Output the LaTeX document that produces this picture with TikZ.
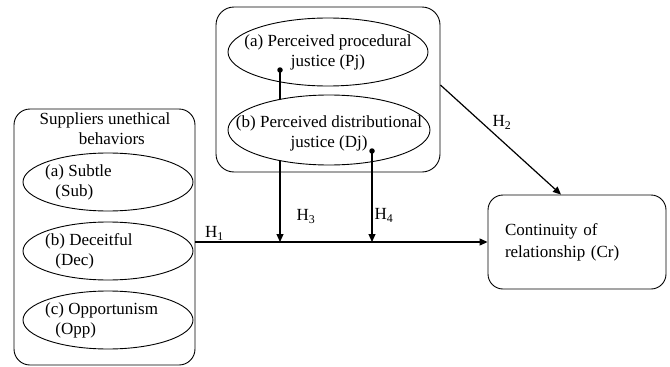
\documentclass[tikz,border=0pt]{standalone}
\usepackage{fontspec}
\setmainfont{Liberation Serif}
\usetikzlibrary{shapes.geometric,arrows.meta,backgrounds}

\begin{document}
\begin{tikzpicture}[
    x=1pt, y=-1pt,
    every node/.style={font=\fontsize{17}{20}\selectfont, inner sep=0pt},
    grpbox/.style={draw, line width=0.9pt},
    oval/.style={draw, ellipse, line width=0.9pt},
    ovaltxt/.style={align=left, anchor=west},
    dotnode/.style={circle, fill, minimum size=5.5pt},
    hyp/.style={line width=1.2pt, -{Triangle[length=8pt,width=7pt]}},
    hlab/.style={inner sep=1pt}]

\useasboundingbox (0,0) rectangle (670,367);

% suppliers behaviours
\node[grpbox, rounded corners=16pt, minimum width=181pt, minimum height=256pt] (sup) at (104.5,237) {};
\node[align=center] (suptitle) at (105,129) {Suppliers unethical\\\hspace*{0.8em}behaviors};

\node[oval, minimum width=170pt, minimum height=58pt] (sub) at (108,182) {};
\node[ovaltxt] (subtxt) at ([xshift=-63pt]sub.center) {(a) Subtle\\\hspace*{0.6em}(Sub)};
\node[oval, minimum width=170pt, minimum height=58pt] (dec) at (108,251) {};
\node[ovaltxt] (dectxt) at ([xshift=-63pt]dec.center) {(b) Deceitful\\\hspace*{0.6em}(Dec)};
\node[oval, minimum width=170pt, minimum height=58pt] (opp) at (108,320) {};
\node[ovaltxt] (opptxt) at ([xshift=-63pt]opp.center) {(c) Opportunism\\\hspace*{0.6em}(Opp)};

% perceived justice
\node[grpbox, rounded corners=18pt, minimum width=224pt, minimum height=165pt] (just) at (328,89.5) {};
\node[oval, minimum width=200pt, minimum height=68pt] (pj) at (328,52) {};
\node[align=center] (pjtxt) at (pj) {(a) Perceived procedural\\justice (Pj)};
\node[oval, fill=white, minimum width=202pt, minimum height=70pt] (dj) at (329,130) {};
\node[align=center] (djtxt) at ([yshift=-3pt]dj.center) {(b) Perceived distributional\\justice (Dj)};
\node[dotnode] (pjdot) at (280,70) {};
\node[dotnode] (djdot) at (372,151) {};

% continuity
\node[grpbox, rounded corners=15pt, minimum width=178pt, minimum height=94pt,
      text width=144pt, align=left, font=\fontsize{17}{22}\selectfont] (cr) at (577,242)
      {Continuity of\\relationship (Cr)};

% hypotheses
\draw[hyp] (sup.east |- cr.west) -- node[hlab, above, pos=0.065] {H\textsubscript{1}} (cr.west);
\draw[hyp] ([yshift=4.5pt]just.east) -- node[hlab, pos=0.42, anchor=south west] {H\textsubscript{2}} ([xshift=-16pt]cr.north);
\begin{scope}[on background layer]
  \draw[hyp] (pjdot.center) -- node[hlab, pos=0.85, right=15pt] {H\textsubscript{3}} (pjdot.center |- cr.west);
\end{scope}
\draw[hyp] (djdot.center) -- node[hlab, pos=0.71, right=1pt] {H\textsubscript{4}} (djdot.center |- cr.west);

\end{tikzpicture}
\end{document}
